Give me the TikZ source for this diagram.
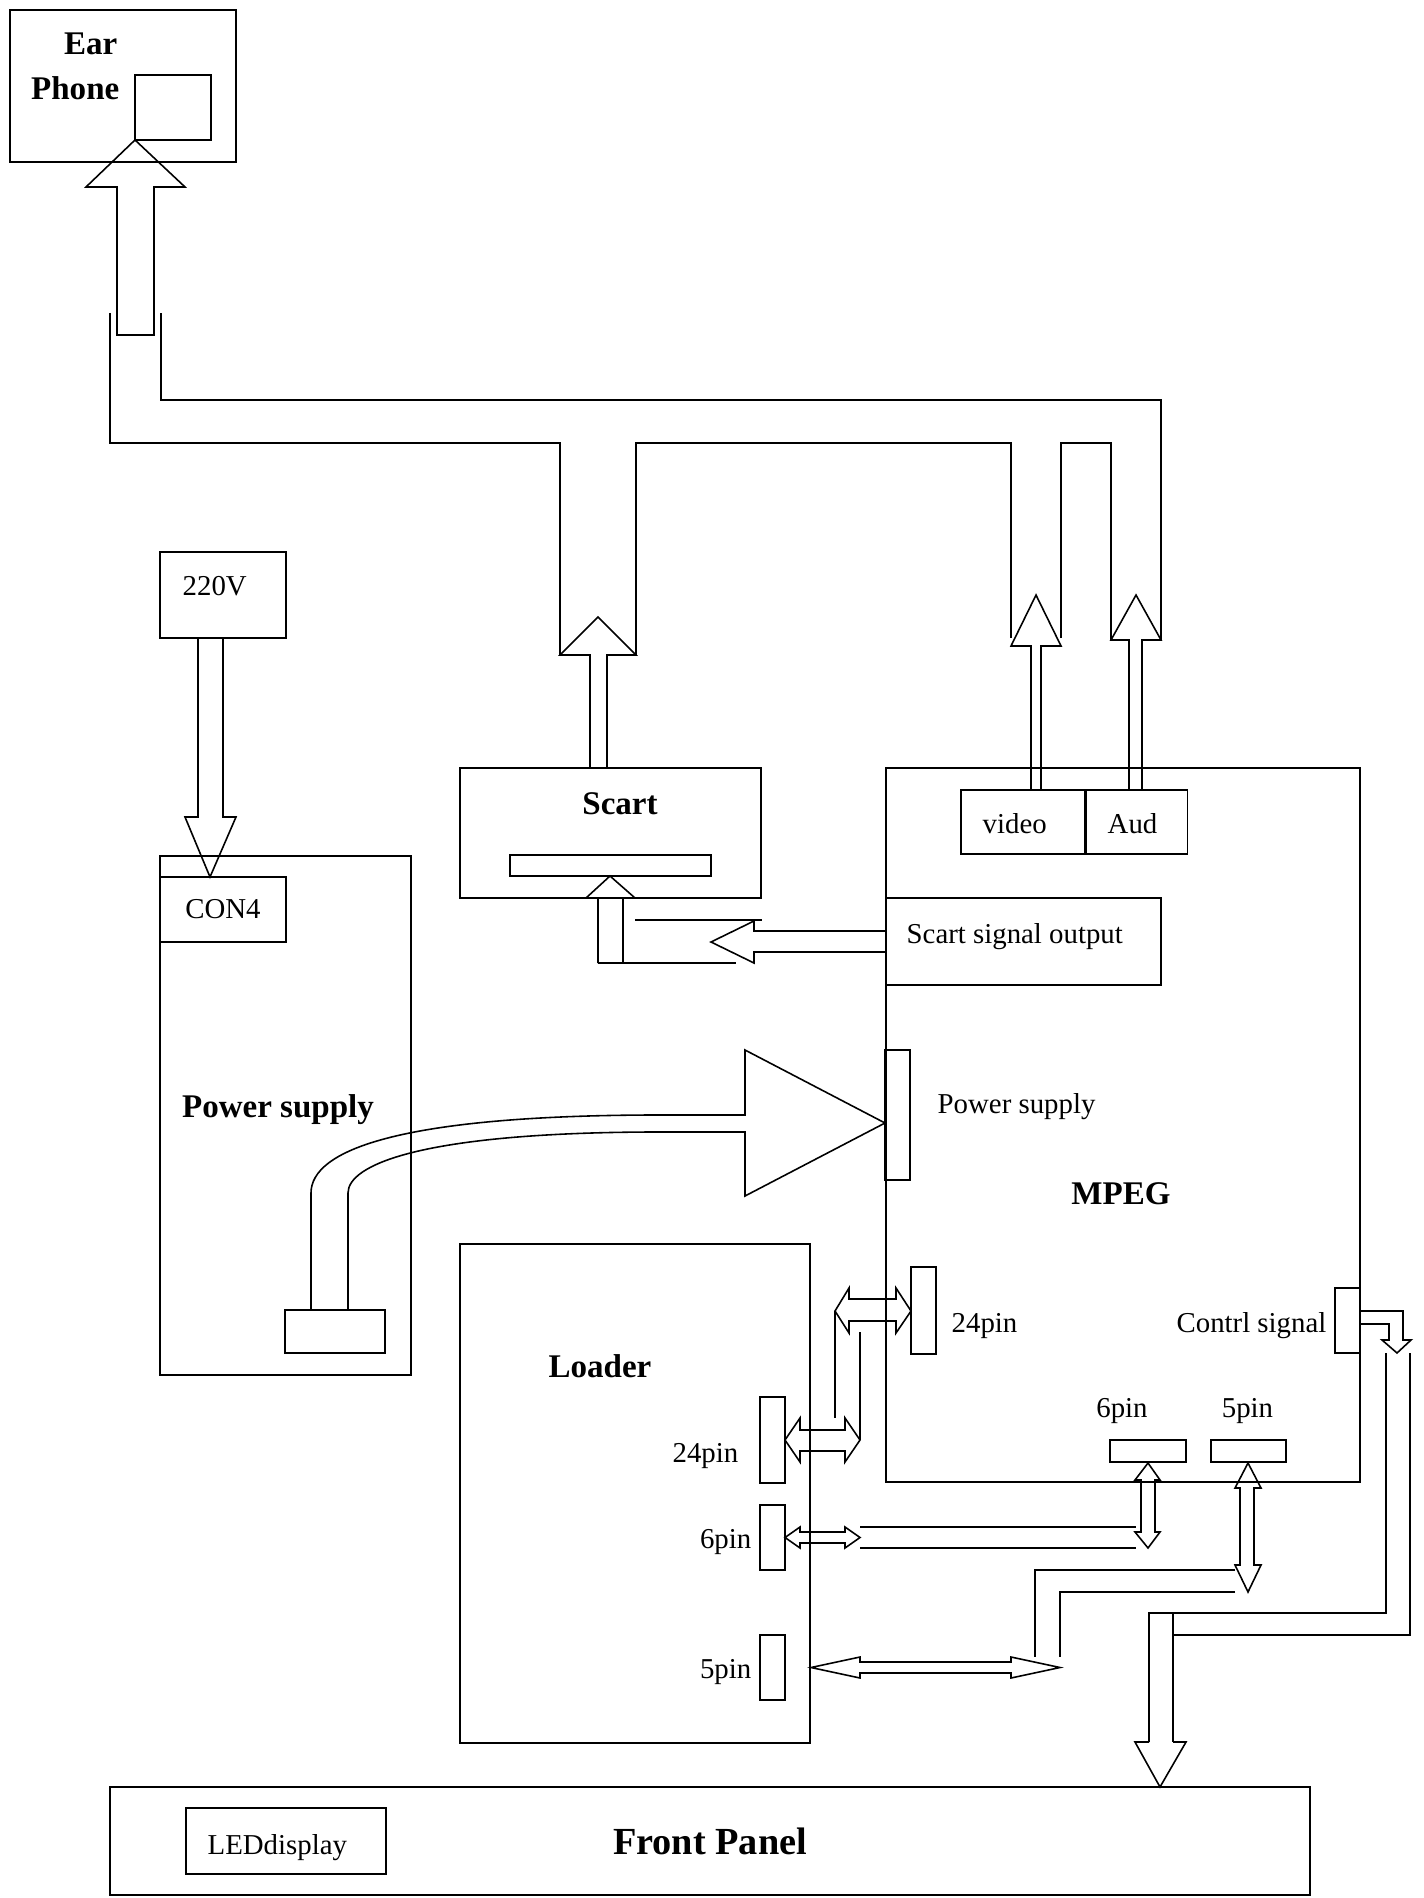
\documentclass[tikz,border=0pt]{standalone}
\usepackage{fontspec}
\setmainfont{Liberation Serif}
\usetikzlibrary{positioning}
\definecolor{ink}{HTML}{000000}

\begin{document}
\begin{tikzpicture}[
  x=1mm, y=-1mm,
  box/.style={draw=ink, line width=0.45pt, inner sep=0pt,
    font=\fontsize{8.2}{10}\selectfont},
  socket/.style={box, minimum width=2.5mm},
  txt/.style={inner sep=0pt, text=ink, font=\fontsize{8.2}{10}\selectfont},
  heading/.style={inner sep=0pt, text=ink, font=\fontsize{9.4}{11}\selectfont\bfseries},
  pipe/.style={draw=ink, line width=0.45pt, line join=miter}
]
\useasboundingbox (0,0) rectangle (142.3,189.8);

% boxes
\node[box, minimum width=22.6mm, minimum height=15.2mm] (earphone) at (12.3,8.6) {};
\node[box, minimum width=7.6mm, minimum height=6.5mm] (jack) at (17.3,10.75) {};
\node[heading, anchor=base east] (ear) at (11.8,5.5) {Ear};
\node[heading, anchor=base east] (phone) at (12.0,10.0) {Phone};

\node[box, minimum width=12.6mm, minimum height=8.6mm] (mains) at (22.3,59.5) {};
\node[txt, anchor=base west] (mainslabel) at (18.2,59.5) {220V};

\node[box, minimum width=25.1mm, minimum height=51.9mm] (psu) at (28.55,111.55) {};
\node[box, minimum width=12.6mm, minimum height=6.5mm] (con) at (22.3,90.95) {CON4};
\node[box, minimum width=10mm, minimum height=4.3mm] (psuout) at (33.5,133.15) {};
\node[heading, anchor=base] (psulabel) at (27.8,111.7) {Power supply};

\node[box, minimum width=30.1mm, minimum height=13mm] (scart) at (61.05,83.3) {};
\node[box, minimum width=20.1mm, minimum height=2.1mm] (scartbar) at (61.05,86.55) {};
\node[heading, anchor=base] (scartlabel) at (62.0,81.4) {Scart};

\node[box, minimum width=47.4mm, minimum height=71.4mm] (mpeg) at (112.3,112.5) {};
\node[heading, anchor=base] (mpeglabel) at (112.1,120.4) {MPEG};
\node[box, minimum width=12.4mm, minimum height=6.4mm] (vid) at (102.3,82.2) {};
\node[box, minimum width=10.1mm, minimum height=6.4mm, right=0pt of vid] (aud) {};
\node[txt, anchor=base west] (vidlabel) at (98.2,83.3) {video};
\node[txt, anchor=base west] (audlabel) at (110.7,83.3) {Aud};
\node[box, minimum width=27.5mm, minimum height=8.7mm] (scartout) at (102.35,94.15) {};
\node[txt, anchor=base west] (scartoutlabel) at (90.6,94.3) {Scart signal output};
\node[socket, minimum height=13mm] (mpwr) at (89.75,111.5) {};
\node[txt, anchor=base west] (mpwrlabel) at (93.7,111.3) {Power supply};
\node[socket, minimum height=8.7mm] (mpin24) at (92.35,131.05) {};
\node[txt, anchor=base west] (mpin24label) at (95.1,133.2) {24pin};
\node[socket, minimum height=6.5mm] (ctrl) at (134.75,132.05) {};
\node[txt, anchor=base east] (ctrllabel) at (132.7,133.2) {Contrl signal};
\node[box, minimum width=7.6mm, minimum height=2.2mm] (mpin6) at (114.8,145.1) {};
\node[txt, anchor=base] (mpin6label) at (112.2,141.7) {6pin};
\node[box, minimum width=7.5mm, minimum height=2.2mm] (mpin5) at (124.85,145.1) {};
\node[txt, anchor=base] (mpin5label) at (124.75,141.7) {5pin};

\node[box, minimum width=35mm, minimum height=49.9mm] (loader) at (63.5,149.35) {};
\node[heading, anchor=base] (loaderlabel) at (60.0,137.7) {Loader};
\node[socket, minimum height=8.6mm] (lpin24) at (77.25,144.0) {};
\node[txt, anchor=base east] (lpin24label) at (73.9,146.2) {24pin};
\node[socket, minimum height=6.5mm] (lpin6) at (77.25,153.75) {};
\node[txt, anchor=base east] (lpin6label) at (75.2,154.8) {6pin};
\node[socket, minimum height=6.5mm] (lpin5) at (77.25,166.75) {};
\node[txt, anchor=base east] (lpin5label) at (75.2,167.8) {5pin};

\node[box, minimum width=120mm, minimum height=10.8mm,
  font=\fontsize{10.9}{13}\selectfont\bfseries] (front) at (71,184.1) {Front Panel};
\node[box, minimum width=20mm, minimum height=6.6mm] (led) at (28.6,184.1) {};
\node[txt, anchor=base west] (ledlabel) at (20.7,185.4) {LEDdisplay};

% earphone feed
\draw[pipe] (11.7,33.5) -- (11.7,18.7) -- (8.6,18.7) -- (13.5,14.0) -- (18.5,18.7)
  -- (15.4,18.7) -- (15.4,33.5) -- cycle;
\draw[pipe] (11.0,31.3) |- (56.0,44.3) -- (56.0,65.5);
\draw[pipe] (63.6,65.5) |- (101.1,44.3) -- (101.1,63.8);
\draw[pipe] (106.1,63.8) |- (111.1,44.3) -- (111.1,64.0);
\draw[pipe] (116.1,64.0) |- (16.1,40.0) -- (16.1,31.3);

% outputs into the bus
\draw[pipe] (59.0,76.8) -- (59.0,65.5) -- (56.0,65.5) -- (59.8,61.7) -- (63.6,65.5)
  -- (60.7,65.5) -- (60.7,76.8);
\draw[pipe] (103.1,79.0) -- (103.1,64.6) -- (101.1,64.6) -- (103.6,59.5) -- (106.1,64.6)
  -- (104.1,64.6) -- (104.1,79.0);
\draw[pipe] (112.9,79.0) -- (112.9,64.0) -- (111.1,64.0) -- (113.6,59.5) -- (116.1,64.0)
  -- (114.2,64.0) -- (114.2,79.0);

% mains
\draw[pipe] (19.8,63.8) -- (19.8,81.7) -- (18.5,81.7) -- (21.0,87.7) -- (23.6,81.7)
  -- (22.3,81.7) -- (22.3,63.8);

% scart signal
\draw[pipe] (59.8,96.3) -- (59.8,89.8) -- (58.6,89.8) -- (61.0,87.6) -- (63.5,89.8)
  -- (62.3,89.8) -- (62.3,96.3);
\draw[pipe] (59.8,96.3) -- (73.6,96.3);
\draw[pipe] (63.5,92.0) -- (76.2,92.0);
\draw[pipe] (88.6,93.1) -- (75.4,93.1) -- (75.4,92.1) -- (71.1,94.2) -- (75.4,96.3)
  -- (75.4,95.2) -- (88.6,95.2);

% power to mpeg
\draw[pipe] (31.1,131.0) -- (31.1,119.3) .. controls (31.1,115.0) and (40.0,111.6) .. (65.0,111.5)
  -- (74.5,111.5) -- (74.5,105.0) -- (88.5,112.3) -- (74.5,119.6) -- (74.5,113.2)
  -- (65.0,113.2) .. controls (42.0,113.3) and (34.8,116.5) .. (34.8,119.3) -- (34.8,131.0);

% 24pin link
\draw[pipe] (83.5,131.1) -- (84.9,128.8) -- (84.9,129.9) -- (89.6,129.9) -- (89.6,128.8)
  -- (91.1,131.1) -- (89.6,133.3) -- (89.6,132.1) -- (84.9,132.1) -- (84.9,133.3) -- cycle;
\draw[pipe] (78.5,144.0) -- (80.0,141.8) -- (80.0,143.0) -- (84.5,143.0) -- (84.5,141.8)
  -- (86.0,144.0) -- (84.5,146.2) -- (84.5,145.1) -- (80.0,145.1) -- (80.0,146.2) -- cycle;
\draw[pipe] (83.5,131.1) -- (83.5,141.8);
\draw[pipe] (86.0,133.2) -- (86.0,144.0);

% 6pin link
\draw[pipe] (78.5,153.75) -- (80.0,152.7) -- (80.0,153.2) -- (84.5,153.2) -- (84.5,152.7)
  -- (86.0,153.75) -- (84.5,154.8) -- (84.5,154.3) -- (80.0,154.3) -- (80.0,154.8) -- cycle;
\draw[pipe] (86.0,152.7) -- (113.6,152.7);
\draw[pipe] (86.0,154.8) -- (113.6,154.8);
\draw[pipe] (114.8,146.3) -- (116.0,148.0) -- (115.5,148.0) -- (115.5,153.2) -- (116.0,153.2)
  -- (114.8,154.8) -- (113.5,153.2) -- (114.1,153.2) -- (114.1,148.0) -- (113.5,148.0) -- cycle;

% 5pin link
\draw[pipe] (124.8,146.3) -- (126.1,148.8) -- (125.4,148.8) -- (125.4,156.5) -- (126.1,156.5)
  -- (124.8,159.2) -- (123.5,156.5) -- (124.0,156.5) -- (124.0,148.8) -- (123.5,148.8) -- cycle;
\draw[pipe] (123.5,157.0) -| (103.5,165.7);
\draw[pipe] (123.5,159.2) -| (106.0,165.7);
\draw[pipe] (81.1,166.75) -- (86.0,165.7) -- (86.0,166.2) -- (101.1,166.2) -- (101.1,165.7)
  -- (106.0,166.75) -- (101.1,167.8) -- (101.1,167.3) -- (86.0,167.3) -- (86.0,167.8) -- cycle;

% control signal to front panel
\draw[pipe] (136.0,131.1) -- (140.3,131.1) -- (140.3,134.0) -- (141.1,134.0) -- (139.7,135.3)
  -- (138.2,134.0) -- (138.9,134.0) -- (138.9,132.4) -- (136.0,132.4);
\draw[pipe] (138.6,135.3) |- (114.9,161.3) -- (114.9,174.2);
\draw[pipe] (141.0,135.3) |- (117.3,163.5);
\draw[pipe] (117.3,161.3) -- (117.3,174.2);
\draw[pipe] (114.9,174.2) -- (113.5,174.2) -- (116.0,178.7) -- (118.6,174.2) -- (117.3,174.2);

\end{tikzpicture}
\end{document}
